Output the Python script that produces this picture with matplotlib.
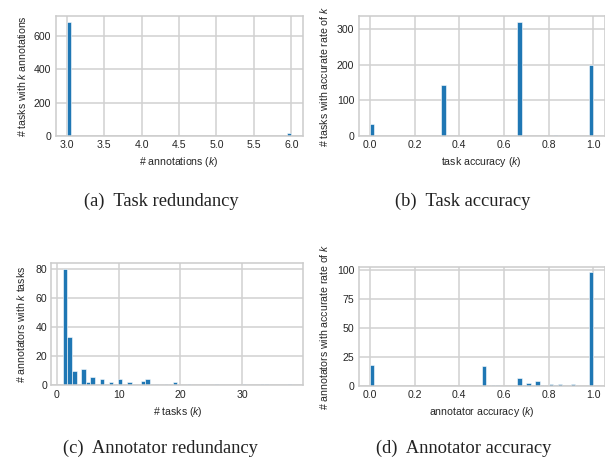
import matplotlib
matplotlib.use("Agg")
import matplotlib.pyplot as plt
from matplotlib.ticker import MultipleLocator
import seaborn as sns

# ---- data ----
# (a) task redundancy: number of annotations per task
task_annot_k = [3, 6]
task_annot_n = [686, 18]

# (b) task accuracy
task_acc_v = [0.0, 0.333, 0.667, 0.833, 1.0]
task_acc_n = [34, 143, 320, 2, 199]

# (c) annotator redundancy: number of tasks per annotator
annot_tasks_k = [1, 2, 3, 4, 5, 6, 7, 9, 10, 12, 14, 15, 16, 18, 19, 21, 26, 30, 33, 34, 38]
annot_tasks_n = [80, 33, 10, 11, 2, 6, 4, 2, 4, 2, 3, 4, 1, 1, 2, 1, 1, 1, 1, 1, 1]

# (d) annotator accuracy
annot_acc_v = [0.0, 0.5, 0.556, 0.571, 0.667, 0.692, 0.714, 0.75, 0.778, 0.8, 0.833, 0.857, 0.9, 1.0]
annot_acc_n = [18, 17, 1, 1, 7, 1, 3, 4, 1, 2, 1, 2, 2, 98]

xlabels = ["# annotations ($k$)", "task accuracy ($k$)", "# tasks ($k$)", "annotator accuracy ($k$)"]
ylabels = ["# tasks with $k$ annotations", "# tasks with accurate rate of $k$",
           "# annotators with $k$ tasks", "# annotators with accurate rate of $k$"]
captions = ["(a)  Task redundancy", "(b)  Task accuracy",
            "(c)  Annotator redundancy", "(d)  Annotator accuracy"]
ytick_step = [200, 100, 20, 25]

sns.set_style("whitegrid")
plt.rcParams['font.family'] = ['Liberation Sans', 'DejaVu Sans']
plt.rcParams['mathtext.fontset'] = 'custom'
plt.rcParams['mathtext.it'] = 'Liberation Sans:italic'
plt.rcParams['mathtext.rm'] = 'Liberation Sans'

W, H = 605, 457
fig = plt.figure(figsize=(W / 100, H / 100), dpi=100)

# axes boxes in pixels: left, top, right, bottom
boxes = [(55.5, 16, 302.5, 136), (358.8, 16, 604.5, 136),
         (51.4, 263.3, 303.4, 385.3), (358.8, 266.6, 604.5, 386)]
data = [(task_annot_k, task_annot_n), (task_acc_v, task_acc_n),
        (annot_tasks_k, annot_tasks_n), (annot_acc_v, annot_acc_n)]
ylab_x = [-0.113, -0.119, -0.095, -0.119]
xlab_y = [-0.155, -0.155, -0.165, -0.163]
cap_pos = [(161.2, 206.3), (462.5, 206.3), (160.8, 453), (463.3, 453)]

for i, ((l, t, r, b), (vals, cnts)) in enumerate(zip(boxes, data)):
    ax = fig.add_axes([l / W, 1 - b / H, (r - l) / W, (b - t) / H])
    ax.hist(vals, weights=cnts, bins=50, color='#1f77b4', edgecolor='white', linewidth=0.4)
    ax.yaxis.set_major_locator(MultipleLocator(ytick_step[i]))
    ax.tick_params(axis='both', length=0, pad=3.2, labelsize=7.6, colors='.15')
    ax.set_xlabel(xlabels[i], fontsize=7.6, color='.15')
    ax.set_ylabel(ylabels[i], fontsize=7.6, color='.15')
    ax.yaxis.set_label_coords(ylab_x[i], 0.5)
    ax.xaxis.set_label_coords(0.5, xlab_y[i])
    for s in ax.spines.values():
        s.set_color('.8')
        s.set_linewidth(1.1)
    ax.grid(True, color='.82', linewidth=1.1)
    cx, cy = cap_pos[i]
    fig.text(cx / W, 1 - cy / H, captions[i], ha='center', va='baseline',
             fontsize=13.3, family=['Liberation Serif', 'DejaVu Serif'], color='#222222')

fig.savefig("out.png", dpi=100)
